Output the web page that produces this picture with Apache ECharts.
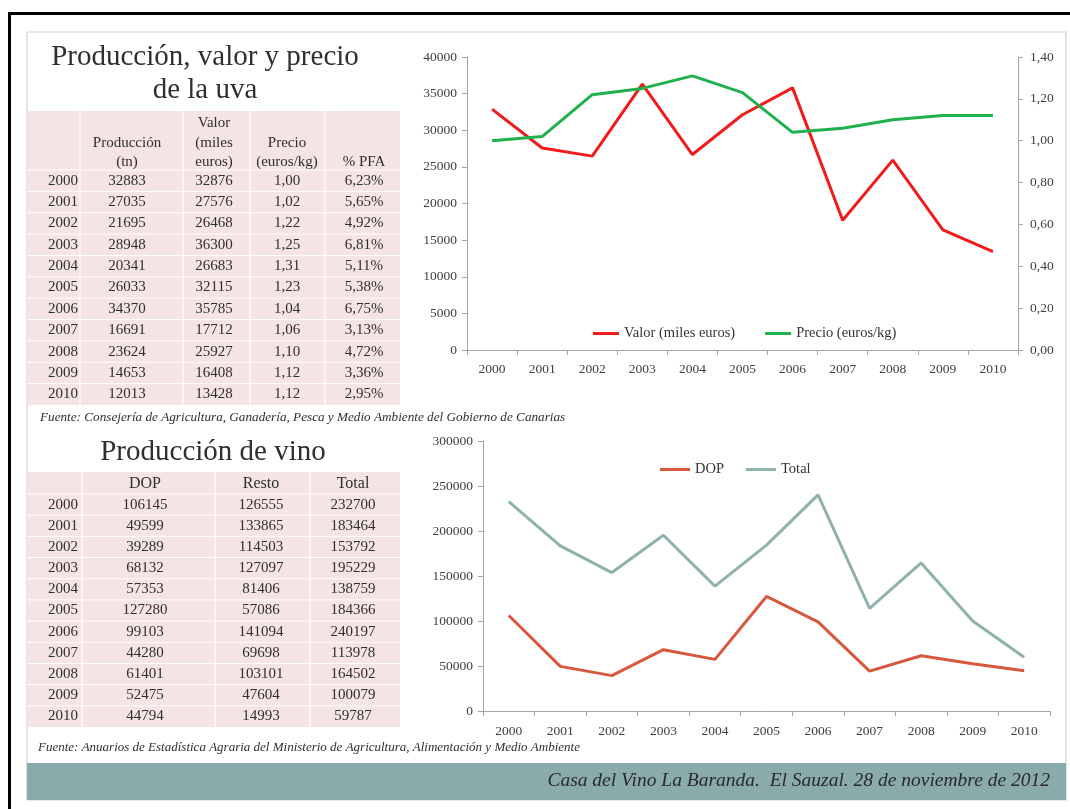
<!DOCTYPE html>
<html>
<head>
<meta charset="utf-8">
<script src="https://cdn.jsdelivr.net/npm/echarts@6/dist/echarts.min.js"></script>
<style>
html,body{margin:0;padding:0;background:#fff;}
#main{width:1070px;height:809px;}
</style>
</head>
<body>
<div id="main"></div>
<script>
// ---- Data ----
const years = ['2000','2001','2002','2003','2004','2005','2006','2007','2008','2009','2010'];
const uvaProduccion = [32883,27035,21695,28948,20341,26033,34370,16691,23624,14653,12013];
const uvaValor = [32876,27576,26468,36300,26683,32115,35785,17712,25927,16408,13428];
const uvaPrecio = [1.00,1.02,1.22,1.25,1.31,1.23,1.04,1.06,1.10,1.12,1.12];
const uvaPFA = [6.23,5.65,4.92,6.81,5.11,5.38,6.75,3.13,4.72,3.36,2.95];
const vinoDOP = [106145,49599,39289,68132,57353,127280,99103,44280,61401,52475,44794];
const vinoResto = [126555,133865,114503,127097,81406,57086,141094,69698,103101,47604,14993];
const vinoTotal = [232700,183464,153792,195229,138759,184366,240197,113978,164502,100079,59787];
const uvaHeaders = ['', 'Producción\n(tn)', 'Valor\n(miles\neuros)', 'Precio\n(euros/kg)', '% PFA'];
const vinoHeaders = ['', 'DOP', 'Resto', 'Total'];
const titleUva = 'Producción, valor y precio\nde la uva';
const titleVino = 'Producción de vino';
const fuenteUva = 'Fuente: Consejería de Agricultura, Ganadería, Pesca y Medio Ambiente del Gobierno de Canarias';
const fuenteVino = 'Fuente: Anuarios de Estadística Agraria del Ministerio de Agricultura, Alimentación y Medio Ambiente';
const footer = 'Casa del Vino La Baranda.  El Sauzal. 28 de noviembre de 2012';
const legendUva = ['Valor (miles euros)', 'Precio (euros/kg)'];
const legendVino = ['DOP', 'Total'];

const comma = (v, d) => v.toFixed(d).replace('.', ',');
const SERIF = '"Liberation Serif", "DejaVu Serif", serif';
const TXT = '#2f2f2f';
const PINK = '#f5e4e4';

function txt(x, y, text, size, opts) {
  opts = opts || {};
  return {
    type: 'text', z: 10, silent: true,
    style: {
      x: x, y: y, text: text,
      font: (opts.italic ? 'italic ' : '') + size + 'px ' + SERIF,
      fill: opts.color || TXT,
      textAlign: opts.align || 'center', align: opts.align || 'center',
      textVerticalAlign: opts.valign || 'middle', verticalAlign: opts.valign || 'middle',
      lineHeight: opts.lineHeight || Math.round(size * 1.35)
    }
  };
}
function hline(x1, x2, y, color, w) {
  return { type: 'line', z: 5, silent: true, shape: { x1: x1, y1: y, x2: x2, y2: y }, style: { stroke: color, lineWidth: w || 1 } };
}
function vline(x, y1, y2, color, w) {
  return { type: 'line', z: 5, silent: true, shape: { x1: x, y1: y1, x2: x, y2: y2 }, style: { stroke: color, lineWidth: w || 1 } };
}
function rect(x, y, w, h, fill, stroke, lw) {
  return { type: 'rect', z: 1, silent: true, shape: { x: x, y: y, width: w, height: h },
    style: { fill: fill || 'none', stroke: stroke || 'none', lineWidth: lw || 0 } };
}

const g = [];
// outer black frame and inner light frame
g.push(rect(27, 32, 1039, 768, 'none', '#c9d5d1', 1.2));
g.push(vline(9.5, 12, 809, '#000', 3));
g.push(hline(8, 1070, 13.5, '#000', 3));
// footer band
g.push(rect(27, 763, 1039, 37, '#8aabab'));
g.push(txt(1050, 781, footer, 19.5, { italic: true, align: 'right', color: '#2a2a2a' }));

// ---- Uva table ----
g.push(txt(205, 74, titleUva, 29, { lineHeight: 33 }));
const uT = { x0: 27, x1: 400, top: 111, headBottom: 170, bottom: 405 };
g.push(rect(uT.x0, uT.top, uT.x1 - uT.x0, uT.bottom - uT.top, PINK));
const uCols = [80, 183, 250, 325];
uCols.forEach(x => g.push(vline(x, uT.top, uT.bottom, '#ffffff', 1.2)));
const uCenters = [63, 127, 214, 287, 364];
const uRowH = (uT.bottom - uT.headBottom) / years.length;
g.push(hline(uT.x0, uT.x1, uT.headBottom, '#ffffff', 1.2));
uvaHeaders.forEach((h, i) => { if (h) g.push(txt(uCenters[i], uT.headBottom + 2, h, 15, { valign: 'bottom', lineHeight: 19.5 })); });
years.forEach((yr, r) => {
  const cy = uT.headBottom + uRowH * (r + 0.5);
  if (r > 0) g.push(hline(uT.x0, uT.x1, uT.headBottom + uRowH * r, '#ffffff', 1));
  const vals = [yr, String(uvaProduccion[r]), String(uvaValor[r]), comma(uvaPrecio[r], 2), comma(uvaPFA[r], 2) + '%'];
  vals.forEach((v, i) => g.push(txt(uCenters[i], cy, v, 15)));
});
g.push(txt(40, 418, fuenteUva, 13.2, { italic: true, align: 'left' }));

// ---- Vino table ----
g.push(txt(213, 452, titleVino, 29));
const vT = { x0: 27, x1: 400, top: 472, headBottom: 494, bottom: 727 };
g.push(rect(vT.x0, vT.top, vT.x1 - vT.x0, vT.bottom - vT.top, PINK));
const vCols = [82, 215, 310];
vCols.forEach(x => g.push(vline(x, vT.top, vT.bottom, '#ffffff', 1.2)));
const vCenters = [63, 145, 261, 353];
const vRowH = (vT.bottom - vT.headBottom) / years.length;
g.push(hline(vT.x0, vT.x1, vT.headBottom, '#ffffff', 1.2));
vinoHeaders.forEach((h, i) => { if (h) g.push(txt(vCenters[i], (vT.top + vT.headBottom) / 2 + 1, h, 16)); });
years.forEach((yr, r) => {
  const cy = vT.headBottom + vRowH * (r + 0.5);
  if (r > 0) g.push(hline(vT.x0, vT.x1, vT.headBottom + vRowH * r, '#ffffff', 1));
  const vals = [yr, String(vinoDOP[r]), String(vinoResto[r]), String(vinoTotal[r])];
  vals.forEach((v, i) => g.push(txt(vCenters[i], cy, v, 15)));
});
g.push(txt(38, 748, fuenteVino, 13, { italic: true, align: 'left' }));

const axisLineStyle = { lineStyle: { color: '#a6a6a6', width: 1 } };
const labelStyle = { color: '#404040', fontSize: 13.5, fontFamily: SERIF };
const plain = v => String(v);

const option = {
  backgroundColor: '#ffffff',
  animation: false,
  graphic: { elements: g },
  legend: [
    { data: legendUva, left: 588, top: 321, itemGap: 30, itemWidth: 26, itemHeight: 3, icon: 'rect',
      textStyle: { fontSize: 14.5, fontFamily: SERIF, color: '#333' } },
    { data: legendVino, left: 655, top: 457, itemGap: 22, itemWidth: 30, itemHeight: 3, icon: 'rect',
      textStyle: { fontSize: 14.5, fontFamily: SERIF, color: '#333' } }
  ],
  grid: [
    { left: 467, top: 57, width: 551, height: 293 },
    { left: 483, top: 441, width: 567, height: 270 }
  ],
  xAxis: [
    { type: 'category', gridIndex: 0, data: years, boundaryGap: true,
      axisLine: axisLineStyle, axisTick: { show: true, length: 5, lineStyle: { color: '#a6a6a6' } },
      axisLabel: Object.assign({ margin: 12 }, labelStyle) },
    { type: 'category', gridIndex: 1, data: years, boundaryGap: true,
      axisLine: axisLineStyle, axisTick: { show: true, length: 5, lineStyle: { color: '#a6a6a6' } },
      axisLabel: Object.assign({ margin: 13 }, labelStyle) }
  ],
  yAxis: [
    { type: 'value', gridIndex: 0, min: 0, max: 40000, interval: 5000, position: 'left',
      splitLine: { show: false }, axisLine: Object.assign({ show: true }, axisLineStyle),
      axisTick: { show: true, length: 5, lineStyle: { color: '#a6a6a6' } },
      axisLabel: Object.assign({ margin: 10, formatter: plain }, labelStyle) },
    { type: 'value', gridIndex: 0, min: 0, max: 1.4, interval: 0.2, position: 'right',
      splitLine: { show: false }, axisLine: Object.assign({ show: true }, axisLineStyle),
      axisTick: { show: true, length: 5, lineStyle: { color: '#a6a6a6' } },
      axisLabel: Object.assign({ margin: 12, formatter: v => comma(v, 2) }, labelStyle) },
    { type: 'value', gridIndex: 1, min: 0, max: 300000, interval: 50000,
      splitLine: { show: false }, axisLine: Object.assign({ show: true }, axisLineStyle),
      axisTick: { show: true, length: 5, lineStyle: { color: '#a6a6a6' } },
      axisLabel: Object.assign({ margin: 10, formatter: plain }, labelStyle) }
  ],
  series: [
    { name: legendUva[0], type: 'line', xAxisIndex: 0, yAxisIndex: 0, data: uvaValor,
      showSymbol: false, symbol: 'none', lineStyle: { color: '#f01c1c', width: 3 }, itemStyle: { color: '#f01c1c' } },
    { name: legendUva[1], type: 'line', xAxisIndex: 0, yAxisIndex: 1, data: uvaPrecio,
      showSymbol: false, symbol: 'none', lineStyle: { color: '#20b04e', width: 3 }, itemStyle: { color: '#20b04e' } },
    { name: legendVino[0], type: 'line', xAxisIndex: 1, yAxisIndex: 2, data: vinoDOP,
      showSymbol: false, symbol: 'none', lineStyle: { color: '#d9573d', width: 3 }, itemStyle: { color: '#d9573d' } },
    { name: legendVino[1], type: 'line', xAxisIndex: 1, yAxisIndex: 2, data: vinoTotal,
      showSymbol: false, symbol: 'none', lineStyle: { color: '#8fb2ad', width: 3 }, itemStyle: { color: '#8fb2ad' } }
  ]
};
const chart = echarts.init(document.getElementById('main'), null, { renderer: 'canvas' });
chart.setOption(option);
</script>
</body>
</html>
